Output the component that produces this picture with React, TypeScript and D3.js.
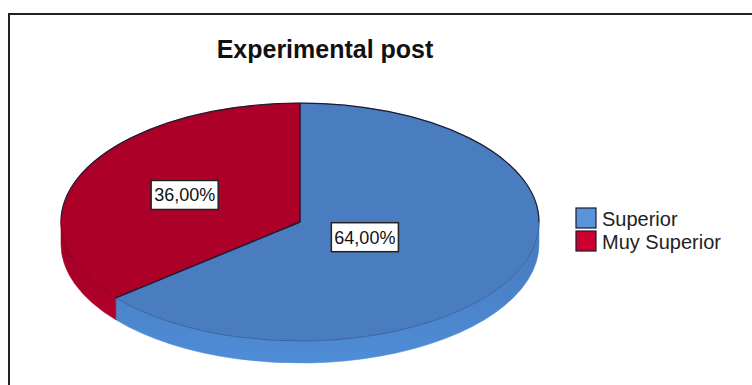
import * as d3 from "d3"
import { useEffect, useRef } from "react"

const title = "Experimental post"
const categories = ["Superior", "Muy Superior"]
const values = [64, 36]
const topColors = ["#4a7dbf", "#ad0029"]
const rimColors = ["#3a66a3", "#85001f"]
const wallTop = ["#4678b9", "#9c0024"]
const wallBottom = ["#4f8dd7", "#b3002b"]
const legendColors = ["#5b93d9", "#cc0030"]

const W = 752
const H = 385

const App = () => {
  const svgRef = useRef<SVGSVGElement>(null)

  useEffect(() => {
    if (!svgRef.current) return
    d3.select(svgRef.current).selectAll("*").remove()

    const svg = d3.select(svgRef.current).attr("width", W).attr("height", H)

    const cx = 300
    const cy = 222
    const rx = 239
    const ry = 119
    const depth = 22

    svg.append("rect").attr("width", W).attr("height", H).attr("fill", "#fff")

    // outer frame (cut by the picture edge)
    svg
      .append("rect")
      .attr("x", 9)
      .attr("y", 14)
      .attr("width", W + 20)
      .attr("height", H + 20)
      .attr("fill", "none")
      .attr("stroke", "#222")
      .attr("stroke-width", 2)

    svg
      .append("text")
      .attr("x", 325)
      .attr("y", 58)
      .attr("text-anchor", "middle")
      .attr("font-family", "Liberation Sans, Arial, sans-serif")
      .attr("font-weight", "bold")
      .attr("font-size", "25px")
      .attr("fill", "#111")
      .text(title)

    const defs = svg.append("defs")
    values.forEach((_, i) => {
      const g = defs
        .append("linearGradient")
        .attr("id", `wall${i}`)
        .attr("x1", 0)
        .attr("y1", 0)
        .attr("x2", 0)
        .attr("y2", 1)
      g.append("stop").attr("offset", "0%").attr("stop-color", wallTop[i])
      g.append("stop").attr("offset", "100%").attr("stop-color", wallBottom[i])
    })

    const pie = d3.pie<number>().sort(null).value((d) => d)
    const arcs = pie(values)

    const pt = (a: number, dy = 0) =>
      `${cx + rx * Math.sin(a)},${cy - ry * Math.cos(a) + dy}`

    // side walls (front half only)
    arcs.forEach((d, i) => {
      const s = Math.max(d.startAngle, Math.PI / 2)
      const e = Math.min(d.endAngle, (3 * Math.PI) / 2)
      if (s >= e) return
      const path =
        `M${pt(s)} A${rx},${ry} 0 0 1 ${pt(e)} ` +
        `L${pt(e, depth)} A${rx},${ry} 0 0 0 ${pt(s, depth)} Z`
      svg
        .append("path")
        .attr("d", path)
        .attr("fill", `url(#wall${i})`)
        .attr("stroke", wallBottom[i])
        .attr("stroke-width", 0.6)
    })

    // top faces
    const arc = d3.arc<d3.PieArcDatum<number>>().innerRadius(0).outerRadius(rx)
    const top = svg
      .append("g")
      .attr("transform", `translate(${cx},${cy}) scale(1,${ry / rx})`)
    top
      .selectAll("path")
      .data(arcs)
      .join("path")
      .attr("d", arc)
      .attr("fill", (_, i) => topColors[i])
      .attr("stroke", (_, i) => topColors[i])
      .attr("stroke-width", 0.5)
      .attr("vector-effect", "non-scaling-stroke")

    // soft rim on the front edge of each slice
    arcs.forEach((d, i) => {
      const s = Math.max(d.startAngle, Math.PI / 2)
      const e = Math.min(d.endAngle, (3 * Math.PI) / 2)
      if (s >= e) return
      svg
        .append("path")
        .attr("d", `M${pt(s)} A${rx},${ry} 0 0 1 ${pt(e)}`)
        .attr("fill", "none")
        .attr("stroke", rimColors[i])
        .attr("stroke-width", 1)
    })

    // dark outline on the back edge and the slice dividers
    svg
      .append("path")
      .attr(
        "d",
        `M${pt(-Math.PI / 2)} A${rx},${ry} 0 0 1 ${pt(Math.PI / 2)}`,
      )
      .attr("fill", "none")
      .attr("stroke", "#1c1c35")
      .attr("stroke-width", 1.2)
    arcs.forEach((d) => {
      svg
        .append("path")
        .attr("d", `M${cx},${cy} L${pt(d.startAngle)}`)
        .attr("fill", "none")
        .attr("stroke", "#1c1c35")
        .attr("stroke-width", 1.5)
    })

    // labels at the area centroid of each sector
    const fmt = d3.format(".2f")
    arcs.forEach((d) => {
      const half = (d.endAngle - d.startAngle) / 2
      const mid = d.startAngle + half
      const f = ((2 / 3) * Math.sin(half)) / half
      const x = cx + f * rx * Math.sin(mid)
      const y = cy - f * ry * Math.cos(mid)
      const g = svg.append("g")
      const t = g
        .append("text")
        .attr("x", x)
        .attr("y", y + 6.5)
        .attr("text-anchor", "middle")
        .attr("font-family", "Liberation Sans, Arial, sans-serif")
        .attr("font-size", "18px")
        .attr("fill", "#111")
        .text(fmt(d.value).replace(".", ",") + "%")
      const bb = (t.node() as SVGTextElement).getBBox()
      g.insert("rect", "text")
        .attr("x", x - bb.width / 2 - 3)
        .attr("y", y - 14.5)
        .attr("width", bb.width + 6)
        .attr("height", 29)
        .attr("fill", "#fff")
        .attr("stroke", "#222")
        .attr("stroke-width", 1.5)
    })

    // legend
    const lg = svg.append("g").attr("transform", "translate(576,208)")
    categories.forEach((c, i) => {
      lg.append("rect")
        .attr("x", 0)
        .attr("y", i * 23)
        .attr("width", 20)
        .attr("height", 20)
        .attr("fill", legendColors[i])
        .attr("stroke", "#1a1a30")
        .attr("stroke-width", 1.2)
      lg.append("text")
        .attr("x", 26)
        .attr("y", i * 23 + 18)
        .attr("font-family", "Liberation Sans, Arial, sans-serif")
        .attr("font-size", "20px")
        .attr("fill", "#222")
        .text(c)
    })
  }, [])

  return (
    <svg
      ref={svgRef}
      style={{ position: "absolute", left: 0, top: 0, display: "block" }}
    />
  )
}

export default App
